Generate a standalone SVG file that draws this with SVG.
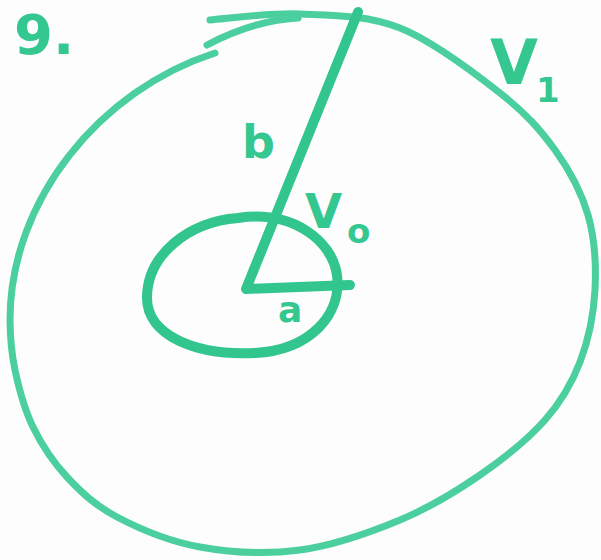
<svg xmlns="http://www.w3.org/2000/svg" width="601" height="560" viewBox="0 0 601 560">
<style>
.m{fill:none;stroke:#32c68e;stroke-width:10;stroke-linecap:round;stroke-linejoin:round}
.o{fill:none;stroke:#4ccf9e;stroke-width:7;stroke-linecap:round;stroke-linejoin:round}
.t{fill:#34c78f;font-family:"DejaVu Sans",sans-serif;font-weight:bold}
</style>
<rect width="601" height="560" fill="#fdfdfd"/>
<g id="outer">
<path class="o" d="M210,20 C225,19 268.3,12.7 300,14 C331.7,15.3 366.7,14.8 400,28 C433.3,41.2 474.2,72.7 500,93 C525.8,113.3 540.3,129.7 555,150 C569.7,170.3 581.3,191.7 588,215 C594.7,238.3 596.3,265.5 595,290 C593.7,314.5 588.3,340.3 580,362 C571.7,383.7 561.7,401.2 545,420 C528.3,438.8 504.2,458.3 480,475 C455.8,491.7 430,507.5 400,520 C370,532.5 333.3,545.5 300,550 C266.7,554.5 230.5,552.5 200,547 C169.5,541.5 139.2,528.7 117,517 C94.8,505.3 81,492 67,477 C53,462 41.7,444.8 33,427 C24.3,409.2 18.8,387.8 15,370 C11.2,352.2 10.2,336.7 10,320 C10,200 100,90 215,53"/>
<path class="o" d="M207,45 C235,30 265,20 298,18"/>
</g>
<g id="inner">
<path class="m" d="M238,218 C292,210 332,240 337,275 C342,315 310,350 255,353 C195,356 147,335 147,298 C147,255 188,222 238,218"/>
</g>
<g id="connectors">
<path class="m" d="M358,12 L246,289 L350,285"/>
</g>
<g id="labels">
<text class="t" x="14" y="54" font-size="56">9.</text>
<text class="t" x="242" y="158" font-size="46">b</text>
<text class="t" x="305" y="228" font-size="48">V</text>
<text class="t" x="347" y="243" font-size="34">o</text>
<text class="t" x="278" y="322" font-size="36">a</text>
<text class="t" x="490" y="84" font-size="62">V</text>
<text class="t" x="536" y="102" font-size="34">1</text>
</g>
</svg>
